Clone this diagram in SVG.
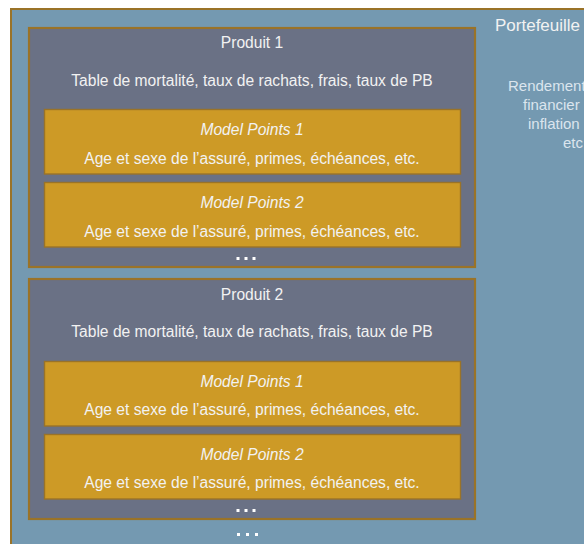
<svg xmlns="http://www.w3.org/2000/svg" width="584" height="544" viewBox="0 0 584 544">
  <style>
    .portfolio { fill: #7499b1; stroke: #9a7328; stroke-width: 2; }
    .product { fill: #6a7185; stroke: #9a7328; stroke-width: 2.2; }
    .mp { fill: #cd9a26; stroke: #9a7328; stroke-width: 1.4; }
    text { font-family: "Liberation Sans", Arial, sans-serif; fill: #f2f2f2; }
    .title { font-size: 15.6px; text-anchor: middle; }
    .body { font-size: 15.6px; text-anchor: middle; }
    .mptitle { font-size: 15.6px; font-style: italic; text-anchor: middle; }
    .side { font-size: 15px; fill: #dbe5ee; }
    .dot { fill: #ffffff; }
  </style>
  <rect x="0" y="0" width="584" height="544" fill="#ffffff"/>

  <g id="portefeuille">
    <rect class="portfolio" x="11" y="9" width="600" height="560"/>
    <text x="495" y="31" style="font-size:17px">Portefeuille</text>
    <text class="side" x="508" y="91">Rendement</text>
    <text class="side" x="523" y="110">financier</text>
    <text class="side" x="528" y="129">inflation</text>
    <text class="side" x="563" y="148">etc</text>
  </g>

  <g id="produit1">
    <rect class="product" x="29" y="28" width="446" height="239"/>
    <text class="title" x="252" y="48">Produit 1</text>
    <text class="body" x="252" y="86">Table de mortalité, taux de rachats, frais, taux de PB</text>
  </g>
  <g id="produit1-mp1">
    <rect class="mp" x="44.5" y="109.5" width="416" height="64.5"/>
    <text class="mptitle" x="252" y="135">Model Points 1</text>
    <text class="body" x="252" y="164">Age et sexe de l’assuré, primes, échéances, etc.</text>
  </g>
  <g id="produit1-mp2">
    <rect class="mp" x="44.5" y="182.5" width="416" height="64.5"/>
    <text class="mptitle" x="252" y="208">Model Points 2</text>
    <text class="body" x="252" y="237">Age et sexe de l’assuré, primes, échéances, etc.</text>
  </g>
  <g id="produit1-more">
    <rect class="dot" x="236.5" y="257" width="3" height="3"/>
    <rect class="dot" x="244.5" y="257" width="3" height="3"/>
    <rect class="dot" x="252.5" y="257" width="3" height="3"/>
  </g>

  <g id="produit2">
    <rect class="product" x="29" y="279" width="446" height="240"/>
    <text class="title" x="252" y="300">Produit 2</text>
    <text class="body" x="252" y="337">Table de mortalité, taux de rachats, frais, taux de PB</text>
  </g>
  <g id="produit2-mp1">
    <rect class="mp" x="44.5" y="361.5" width="416" height="64.5"/>
    <text class="mptitle" x="252" y="387">Model Points 1</text>
    <text class="body" x="252" y="415">Age et sexe de l’assuré, primes, échéances, etc.</text>
  </g>
  <g id="produit2-mp2">
    <rect class="mp" x="44.5" y="434.5" width="416" height="64.5"/>
    <text class="mptitle" x="252" y="460">Model Points 2</text>
    <text class="body" x="252" y="488">Age et sexe de l’assuré, primes, échéances, etc.</text>
  </g>
  <g id="produit2-more">
    <rect class="dot" x="236.5" y="509" width="3" height="3"/>
    <rect class="dot" x="244.5" y="509" width="3" height="3"/>
    <rect class="dot" x="252.5" y="509" width="3" height="3"/>
  </g>

  <g id="produits-more">
    <rect class="dot" x="237" y="533" width="3" height="3"/>
    <rect class="dot" x="246" y="533" width="3" height="3"/>
    <rect class="dot" x="255" y="533" width="3" height="3"/>
  </g>

  <g id="connectors"></g>
</svg>
